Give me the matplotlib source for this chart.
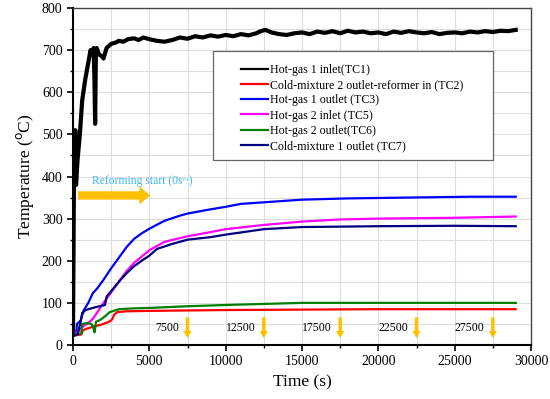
import numpy as np
import matplotlib.pyplot as plt
from matplotlib.patches import Rectangle
from matplotlib.ticker import MultipleLocator

plt.rcParams['font.family'] = ['Liberation Serif', 'DejaVu Serif']

# time (s) and temperature (C)
t_tc1 = [0, 60, 100, 150, 200, 300, 450, 600, 800, 1000, 1150, 1250, 1350, 1400,
         1450, 1500, 1550, 1700, 1900, 2000, 2200, 2500, 2800, 3000, 3300, 3600,
         4000, 4300, 4600, 5000, 5500, 6000, 6500, 7000, 7500, 8000, 8500, 9000,
         9500, 10000, 10500, 11000, 11500, 12000, 12300, 12600, 13000, 13500,
         14000, 14500, 15000, 15500, 16000, 16500, 17000, 17500, 18000, 18500,
         19000, 19500, 20000, 20500, 21000, 21500, 22000, 22500, 23000, 23500,
         24000, 24500, 25000, 25500, 26000, 26500, 27000, 27500, 28000, 28500, 29000]
tc1 = [25, 380, 440, 510, 380, 440, 500, 580, 630, 670, 700, 690, 705, 640,
       525, 700, 705, 690, 685, 680, 705, 715, 718, 722, 720, 726, 728, 724,
       730, 726, 722, 720, 724, 730, 727, 733, 730, 735, 732, 736, 733, 738,
       735, 740, 745, 748, 742, 738, 736, 740, 742, 738, 744, 741, 745, 740,
       746, 742, 744, 740, 742, 738, 744, 741, 745, 742, 740, 743, 738, 741,
       742, 740, 744, 742, 745, 743, 746, 745, 748]

t_tc2 = [0, 550, 650, 1000, 1500, 2000, 2400, 2550, 2700, 2900, 3500, 5000,
         7500, 10000, 15000, 20000, 25000, 29000]
tc2 = [22, 25, 35, 40, 45, 50, 56, 60, 72, 78, 80, 81, 82, 83, 84, 85, 85, 85]

t_tc3 = [0, 200, 260, 500, 700, 1000, 1300, 1600, 2000, 2500, 3000, 3500, 4000,
         4500, 5000, 6000, 7000, 7500, 9000, 10000, 11000, 13000, 15000, 18000,
         22000, 26000, 29000]
tc3 = [22, 25, 50, 58, 82, 100, 123, 135, 155, 182, 207, 232, 252,
       265, 276, 295, 307, 312, 322, 328, 335, 340, 345, 348, 350, 352, 352]

t_tc5 = [0, 150, 400, 700, 1000, 1300, 1600, 2000, 2500, 3000, 3500, 4000, 5000,
         6000, 7500, 9000, 10000, 12500, 15000, 17500, 20000, 25000, 29000]
tc5 = [22, 25, 35, 45, 52, 62, 78, 100, 125, 150, 175, 195, 225,
       245, 258, 268, 275, 285, 293, 298, 300, 302, 305]

t_tc6 = [0, 200, 550, 600, 900, 1200, 1300, 1350, 1420, 1500, 1800, 2100, 2400,
         3000, 4000, 5000, 7500, 10000, 13000, 15000, 20000, 25000, 29000]
tc6 = [22, 25, 28, 50, 52, 50, 45, 38, 30, 55, 60, 68, 78, 85, 87, 88, 92, 95,
       98, 100, 100, 100, 100]

t_tc7 = [0, 300, 500, 600, 800, 1000, 1500, 2100, 2200, 2500, 3000, 3500, 4000,
         4500, 5000, 5500, 6500, 7500, 9000, 10000, 12500, 15000, 20000, 25000, 29000]
tc7 = [22, 25, 55, 76, 82, 85, 90, 95, 115, 128, 150, 170, 187,
       200, 212, 228, 240, 250, 256, 262, 275, 280, 282, 283, 282]

series = [
    (t_tc1, tc1, 'black', 'Hot-gas 1 inlet(TC1)', 3.0),
    (t_tc2, tc2, 'red', 'Cold-mixture 2 outlet-reformer in (TC2)', 1.6),
    (t_tc3, tc3, 'blue', 'Hot-gas 1 outlet (TC3)', 1.6),
    (t_tc5, tc5, 'magenta', 'Hot-gas 2 inlet (TC5)', 1.6),
    (t_tc6, tc6, 'green', 'Hot-gas 2 outlet(TC6)', 1.6),
    (t_tc7, tc7, '#000080', 'Cold-mixture 1 outlet (TC7)', 1.6),
]

marks = [7500, 12500, 17500, 22500, 27500]

fig = plt.figure(figsize=(5.5, 3.99), dpi=100)
ax = fig.add_axes([73 / 550, 1 - 345 / 399, 458 / 550, 337 / 399])

for t, y, c, lab, lw in series:
    ax.plot(t, y, color=c, lw=lw, label=lab)

# reforming start arrow
ax.annotate('', xy=(5250, 355), xytext=(150, 355),
            arrowprops=dict(arrowstyle='simple,head_length=0.8,head_width=1.3,tail_width=0.6',
                            color='#FFC000', lw=0))
ax.text(1250, 390, 'Reforming start (0s~)', color='#3FB8F0', fontsize=8.4, va='center')

for m in marks:
    ax.annotate('', xy=(m, 10), xytext=(m, 72),
                arrowprops=dict(arrowstyle='simple,head_length=0.5,head_width=0.6,tail_width=0.25',
                                color='#FFC000', lw=0))
    ax.text(m - 550, 40, str(m), ha='right', va='center', fontsize=8.5)

ax.set_xlim(0, 30000)
ax.set_ylim(0, 800)
ax.xaxis.set_major_locator(MultipleLocator(5000))
ax.xaxis.set_minor_locator(MultipleLocator(2500))
ax.yaxis.set_major_locator(MultipleLocator(100))
ax.yaxis.set_minor_locator(MultipleLocator(50))
ax.grid(which='both', color='#dddddd', lw=0.8)
ax.set_axisbelow(True)
ax.tick_params(which='both', direction='out', labelsize=10)
ax.tick_params(which='major', length=4, width=1.2)
ax.tick_params(which='minor', length=2, width=1.0)
ax.spines['left'].set_linewidth(1.5)
ax.spines['bottom'].set_linewidth(1.5)
for s in ['top', 'right']:
    ax.spines[s].set_linewidth(1.0)
    ax.spines[s].set_color('#444444')
ax.set_xlabel('Time (s)', fontsize=12.5)
ax.set_ylabel('Temperature ($^{\\rm o}$C)', fontsize=12.5)

# legend box drawn separately, entries placed inside it
ax.add_patch(Rectangle((0.306, 0.549), 0.611, 0.323, transform=ax.transAxes,
                       facecolor='white', edgecolor='#666666', lw=0.9, zorder=4))
leg = ax.legend(loc='upper left', bbox_to_anchor=(0.366, 0.834), frameon=False,
                fontsize=8.6, handlelength=2.3, handletextpad=0.15,
                borderpad=0, borderaxespad=0, labelspacing=0.27)
leg.set_zorder(5)
for h in leg.get_lines():
    h.set_linewidth(1.6)

fig.savefig('out.png', dpi=100)
